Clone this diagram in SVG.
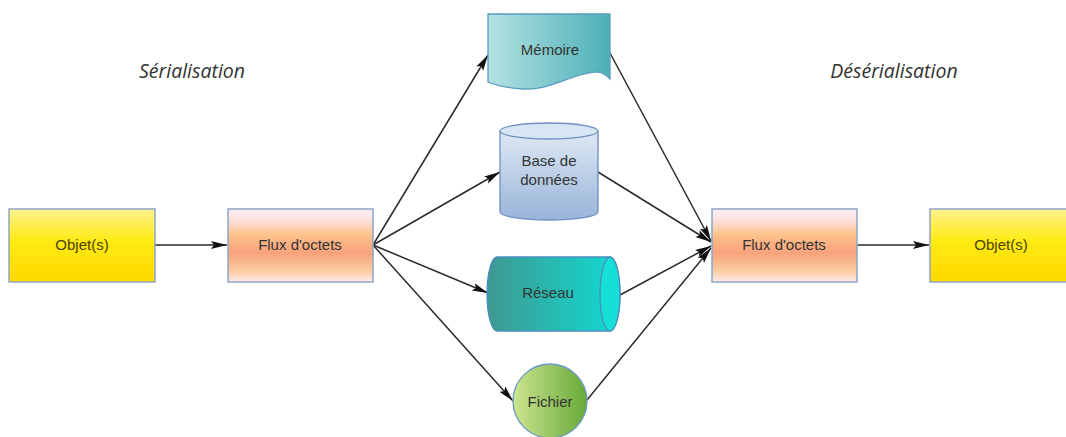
<svg xmlns="http://www.w3.org/2000/svg" width="1066" height="437" viewBox="0 0 1066 437">
<style>
.t{font-family:"Liberation Sans",Arial,sans-serif;font-size:15px;fill:#333;text-anchor:middle}
.ti{font-family:"Open Sans","DejaVu Sans",sans-serif;font-style:italic;font-size:19.5px;fill:#333;text-anchor:middle}
.c{fill:none;stroke:#2a2a2a;stroke-width:1.5}
.ob{fill:url(#gY);stroke:#8ea6c6;stroke-width:1.5}
.fx{fill:url(#gF);stroke:#8ea6c6;stroke-width:1.5}
</style>
<defs>
<linearGradient id="gY" x1="0" y1="0" x2="0" y2="1">
<stop offset="0" stop-color="#fff38c"/><stop offset="0.45" stop-color="#ffea10"/><stop offset="1" stop-color="#ffd800"/>
</linearGradient>
<linearGradient id="gF" x1="0" y1="0" x2="0" y2="1">
<stop offset="0" stop-color="#fdeef2"/><stop offset="0.15" stop-color="#fde2e2"/><stop offset="0.35" stop-color="#fcc28a"/><stop offset="0.6" stop-color="#f8a27c"/><stop offset="0.85" stop-color="#fccca0"/><stop offset="1" stop-color="#fdecef"/>
</linearGradient>
<linearGradient id="gM" x1="0" y1="0" x2="1" y2="0">
<stop offset="0" stop-color="#b4e2e2"/><stop offset="1" stop-color="#4cb0b8"/>
</linearGradient>
<linearGradient id="gD" x1="0" y1="0" x2="0" y2="1">
<stop offset="0" stop-color="#dfe9f5"/><stop offset="1" stop-color="#98b4d8"/>
</linearGradient>
<linearGradient id="gR" x1="0" y1="0" x2="1" y2="0">
<stop offset="0" stop-color="#3e9890"/><stop offset="1" stop-color="#10dcd4"/>
</linearGradient>
<linearGradient id="gC" x1="0" y1="0" x2="1" y2="0">
<stop offset="0" stop-color="#cde490"/><stop offset="1" stop-color="#66aa38"/>
</linearGradient>
<marker id="arr" markerWidth="17" markerHeight="10" refX="16" refY="5" orient="auto" markerUnits="userSpaceOnUse">
<path d="M0,1 L16,5 L0,9 L3,5 Z" fill="#111"/>
</marker>
</defs>

<text class="ti" x="192" y="78">Sérialisation</text>
<text class="ti" x="894" y="78">Désérialisation</text>

<g id="connectors">
<line class="c" x1="155" y1="245" x2="227" y2="245" marker-end="url(#arr)"/>
<line class="c" x1="373" y1="245" x2="488" y2="55" marker-end="url(#arr)"/>
<line class="c" x1="373" y1="245" x2="500" y2="172" marker-end="url(#arr)"/>
<line class="c" x1="373" y1="245" x2="488" y2="293" marker-end="url(#arr)"/>
<line class="c" x1="373" y1="245" x2="513" y2="401" marker-end="url(#arr)"/>
<line class="c" x1="610" y1="53" x2="711" y2="241" marker-end="url(#arr)"/>
<line class="c" x1="598" y1="172" x2="711" y2="242" marker-end="url(#arr)"/>
<line class="c" x1="620" y1="295" x2="711" y2="246" marker-end="url(#arr)"/>
<line class="c" x1="587" y1="400" x2="711" y2="248" marker-end="url(#arr)"/>
<line class="c" x1="857" y1="245" x2="929" y2="245" marker-end="url(#arr)"/>
</g>

<g id="objet-left">
<rect class="ob" x="9" y="209" width="146" height="73"/>
<text class="t" x="82" y="250" style="fill:#4a4200">Objet(s)</text>
</g>
<g id="flux-left">
<rect class="fx" x="228" y="209" width="145" height="73"/>
<text class="t" x="300" y="250">Flux d'octets</text>
</g>
<g id="memoire">
<path d="M488,14 H610 V79 C602,70 594,71 580,75 C560,81 545,90 523,89 C508,88 497,86 488,82 Z" fill="url(#gM)" stroke="#5a9cc0" stroke-width="1.3"/>
<text class="t" x="550" y="55">Mémoire</text>
</g>
<g id="base">
<path d="M500,131 V212 A49,8 0 0 0 598,212 V131" fill="url(#gD)" stroke="#6f90c0" stroke-width="1.3"/>
<ellipse cx="549" cy="131" rx="49" ry="8" fill="#d8e5f3" stroke="#6f90c0" stroke-width="1.3"/>
<text class="t" x="549" y="166">Base de</text>
<text class="t" x="549" y="185">données</text>
</g>
<g id="reseau">
<path d="M497,257 H610 A10,37 0 0 1 610,331 H497 A10,37 0 0 1 497,257 Z" fill="url(#gR)" stroke="#4a8ec0" stroke-width="1.3"/>
<path d="M610,257 A10,37 0 0 1 610,331 A10,37 0 0 1 610,257 Z" fill="#14e0d8" stroke="#4a8ec0" stroke-width="1.3"/>
<text class="t" x="548" y="298">Réseau</text>
</g>
<g id="fichier">
<circle cx="550" cy="401" r="37" fill="url(#gC)" stroke="#6a98c8" stroke-width="1.3"/>
<text class="t" x="550" y="407">Fichier</text>
</g>
<g id="flux-right">
<rect class="fx" x="712" y="209" width="145" height="73"/>
<text class="t" x="784" y="250">Flux d'octets</text>
</g>
<g id="objet-right">
<rect class="ob" x="930" y="209" width="146" height="73"/>
<text class="t" x="1001" y="250" style="fill:#4a4200">Objet(s)</text>
</g>
</svg>
